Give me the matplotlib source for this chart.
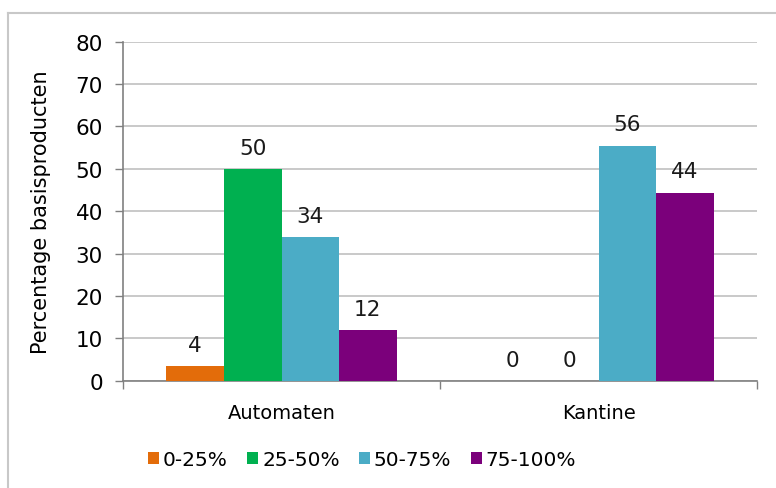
import numpy as np
import matplotlib
matplotlib.use("Agg")
import matplotlib.pyplot as plt
from matplotlib.lines import Line2D

categories = ["Automaten", "Kantine"]
series = ["0-25%", "25-50%", "50-75%", "75-100%"]
values = {
    "0-25%": [3.5, 0],
    "25-50%": [50, 0],
    "50-75%": [34, 55.5],
    "75-100%": [12, 44.4],
}
colors = ["#E36C0A", "#00B050", "#4BACC6", "#7B007B"]

plt.rcParams["font.family"] = ["DejaVu Sans"]

fig = plt.figure(figsize=(7.76, 4.89), dpi=100)
ax = fig.add_axes([123 / 776, 1 - 381.7 / 489, 634 / 776, (381.7 - 42.7) / 489])

x = np.arange(len(categories))
bar_w = 0.1815
for i, (name, col) in enumerate(zip(series, colors)):
    pos = x + (i - 1.5) * bar_w
    bars = ax.bar(pos, values[name], width=bar_w, color=col, label=name, zorder=3)
    for b, v in zip(bars, values[name]):
        ax.annotate(
            f"{v:.0f}",
            (b.get_x() + b.get_width() / 2, v),
            xytext=(0, 8),
            textcoords="offset points",
            ha="center",
            va="bottom",
            fontsize=15.5,
            color="#1a1a1a",
        )

ax.set_xlim(-0.5, 1.5)
ax.set_ylim(0, 80)
ax.set_yticks(range(0, 81, 10))
ax.set_xticks(x)
ax.set_xticklabels(categories)
ax.set_xticks([-0.5, 0.5, 1.5], minor=True)
ax.tick_params(axis="x", which="major", length=0, pad=16, labelsize=14)
ax.tick_params(axis="x", which="minor", length=6, color="#808080", width=1)
ax.tick_params(axis="y", length=6, color="#808080", width=1, labelsize=15.5, pad=8.5)

ax.grid(axis="y", color="#c0c0c0", linewidth=1.2, zorder=0)
for s in ["top", "right"]:
    ax.spines[s].set_visible(False)
ax.spines["left"].set_color("#808080")
ax.spines["bottom"].set_color("#808080")
ax.spines["left"].set_linewidth(1.2)
ax.spines["bottom"].set_linewidth(1.2)

ax.set_ylabel("Percentage basisproducten", fontsize=15)
ax.yaxis.set_label_coords(-0.113, 0.5)

leg = fig.legend(
    loc="center",
    bbox_to_anchor=(362 / 776, 1 - 461 / 489),
    ncol=4,
    frameon=False,
    fontsize=14.5,
    handlelength=0.55,
    handleheight=0.55,
    handletextpad=0.2,
    columnspacing=0.95,
)

# outer chart border
fig.add_artist(Line2D([8 / 776, 8 / 776], [0, 1 - 14 / 489], color="#c8c8c8", linewidth=1.5))
fig.add_artist(Line2D([8 / 776, 1], [1 - 14 / 489, 1 - 14 / 489], color="#c8c8c8", linewidth=1.5))

fig.savefig("out.png", dpi=100)
